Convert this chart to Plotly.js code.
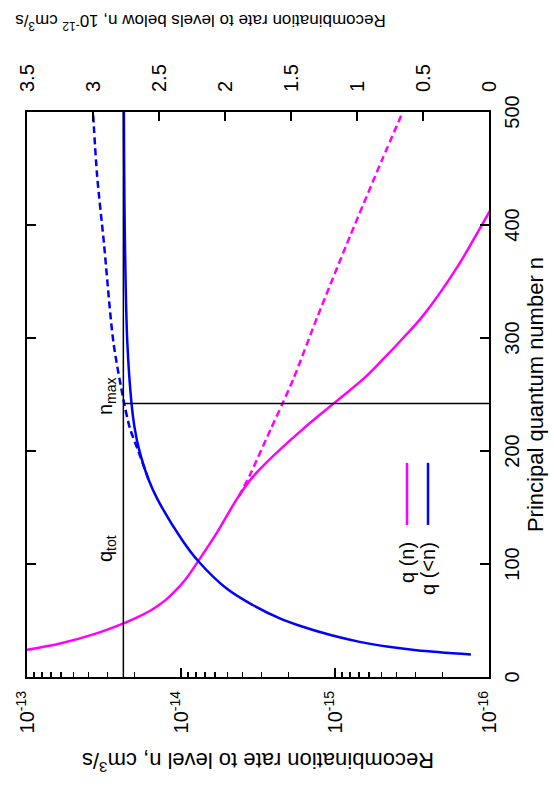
<!DOCTYPE html>
<html><head><meta charset="utf-8">
<script src="https://cdn.plot.ly/plotly-3.0.1.min.js"></script>
<style>
html,body{margin:0;padding:0;width:554px;height:789px;overflow:hidden;background:#fff;}
#wrap{position:absolute;left:0;top:0;width:789px;height:554px;transform-origin:0 0;transform:translate(0px,789px) rotate(-90deg);}
</style></head><body><div id="wrap"></div>
<script>
// q(n): recombination rate to level n, cm^3/s (left log axis)
const nLevel = [20, 24, 29.6, 37.7, 47.5, 53, 58.4, 62.8, 68, 76.2, 86.5, 102.8, 128, 157.6, 176, 190, 219.6, 243, 264, 279, 300, 320, 362, 409, 430];
const qLevel = [1.41e-13, 1.0e-13, 6.10e-14, 3.71e-14, 2.36e-14, 1.908e-14, 1.596e-14, 1.419e-14, 1.262e-14, 1.089e-14, 9.33e-15, 7.71e-15, 5.83e-15, 4.33e-15, 3.47e-15, 2.78e-15, 1.61e-15, 1.0e-15, 6.52e-16, 5.05e-16, 3.61e-16, 2.67e-16, 1.62e-16, 1.02e-16, 8.3e-17];
// q(n) dashed continuation
const nLevelDash = [160, 178, 220, 242, 264, 320, 391, 459, 500];
const qLevelDash = [4.2e-15, 3.59e-15, 2.60e-15, 2.19e-15, 1.86e-15, 1.29e-15, 7.94e-16, 4.90e-16, 3.63e-16];
// q(<n): recombination rate to levels below n, 1e-12 cm^3/s (right linear axis)
const nBelow = [19.9, 23.7, 26.7, 31.1, 37.1, 45.1, 51.9, 63.7, 78.5, 102.2, 121.5, 157, 175, 201, 220, 242, 296, 385, 500];
const qBelow = [0.137, 0.55, 0.76, 0.98, 1.2, 1.428, 1.585, 1.79, 1.99, 2.2, 2.326, 2.51, 2.58, 2.65, 2.684, 2.708, 2.74, 2.758, 2.766];
// q(<n) dashed continuation
const nBelowDash = [175, 201, 220, 243, 296, 385, 444, 500];
const qBelowDash = [2.58, 2.66, 2.72, 2.765, 2.845, 2.918, 2.969, 3.0];
// reference levels
const qTot = 2.77;
const nMax = 242;
// ticks
const nTicks = [0, 100, 200, 300, 400, 500];
const logTickVals = [1e-16, 1e-15, 1e-14, 1e-13];
const logTickText = ['10<sup>-16</sup>', '10<sup>-15</sup>', '10<sup>-14</sup>', '10<sup>-13</sup>'];
const rightTickVals = [0, 0.5, 1, 1.5, 2, 2.5, 3, 3.5];
const rightTickText = ['0', '0.5', '1', '1.5', '2', '2.5', '3', '3.5'];

const MAG = '#ff00ff', BLU = '#0000ff';
const FONT = 'Liberation Sans, Arial, Helvetica, sans-serif';

const minorVals = [];
for (let e = -16; e < -13; e++) for (let m = 2; m <= 9; m++) minorVals.push(m * Math.pow(10, e));

const traces = [
  {x: nLevel, y: qLevel, type: 'scatter', mode: 'lines', name: 'q (n)', yaxis: 'y',
   line: {color: MAG, width: 2.5, shape: 'spline', smoothing: 1}, showlegend: false},
  {x: nLevelDash, y: qLevelDash, type: 'scatter', mode: 'lines', name: 'q (n) extrapolated', yaxis: 'y',
   line: {color: MAG, width: 2.5, dash: '7px,4px', shape: 'spline', smoothing: 0.6}, showlegend: false},
  {x: nBelow, y: qBelow, type: 'scatter', mode: 'lines', name: 'q (<n)', yaxis: 'y2',
   line: {color: BLU, width: 2.5, shape: 'spline', smoothing: 1}, showlegend: false},
  {x: nBelowDash, y: qBelowDash, type: 'scatter', mode: 'lines', name: 'q (<n) extrapolated', yaxis: 'y2',
   line: {color: BLU, width: 2.5, dash: '7px,4px', shape: 'spline', smoothing: 0.8}, showlegend: false}
];

const axisCommon = {showgrid: false, zeroline: false, showline: true, linecolor: '#000', linewidth: 2,
  ticks: 'inside', ticklen: 9, tickwidth: 1.5, tickcolor: '#000',
  tickfont: {family: FONT, size: 20, color: '#000'}};

const layout = {
  width: 789, height: 554,
  margin: {l: 112, r: 112, t: 27, b: 65, pad: 0},
  paper_bgcolor: '#fff', plot_bgcolor: '#fff',
  font: {family: FONT, size: 20, color: '#000'},
  showlegend: false,
  xaxis: Object.assign({}, axisCommon, {
    range: [0, 500], tickmode: 'array', tickvals: nTicks, mirror: 'ticks', ticklabelstandoff: 4,
    title: {text: 'Principal quantum number n', font: {family: FONT, size: 22}, standoff: 6}
  }),
  yaxis: Object.assign({}, axisCommon, {
    type: 'log', range: [-16, -13], tickmode: 'array', tickvals: logTickVals, ticktext: logTickText,
    ticklabelstandoff: 8,
    minor: {ticks: 'inside', ticklen: 5, tickwidth: 1.5, tickcolor: '#000', tickvals: minorVals, showgrid: false},
    title: {text: 'Recombination rate to level n, cm<sup>3</sup>/s', font: {family: FONT, size: 22}, standoff: 13}
  }),
  yaxis2: Object.assign({}, axisCommon, {
    overlaying: 'y', side: 'right', range: [0, 3.5], tickmode: 'array',
    tickvals: rightTickVals, ticktext: rightTickText, ticklabelstandoff: 14
  }),
  shapes: [
    {type: 'line', xref: 'x', yref: 'y2', x0: 0, x1: 500, y0: qTot, y1: qTot, line: {color: '#000', width: 1.5}},
    {type: 'line', xref: 'x', yref: 'y2', x0: nMax, x1: nMax, y0: 0, y1: qTot, line: {color: '#000', width: 1.5}},
    {type: 'line', xref: 'paper', yref: 'paper', x0: 0.269, x1: 0.379, y0: 0.1775, y1: 0.1775, line: {color: MAG, width: 2.5}},
    {type: 'line', xref: 'paper', yref: 'paper', x0: 0.269, x1: 0.379, y0: 0.132, y1: 0.132, line: {color: BLU, width: 2.5}}
  ],
  annotations: [
    {xref: 'x', yref: 'y2', x: 100, y: qTot, text: 'q<sub>tot</sub>', showarrow: false, xanchor: 'left', yanchor: 'bottom', yshift: 2,
     font: {family: FONT, size: 20}},
    {xref: 'x', yref: 'y2', x: 230, y: qTot, text: 'n<sub>max</sub>', showarrow: false, xanchor: 'left', yanchor: 'bottom', yshift: 2,
     font: {family: FONT, size: 20}},
    {xref: 'paper', yref: 'paper', x: 0.2425, y: 0.1775, text: 'q (n)', showarrow: false, xanchor: 'right', yanchor: 'middle',
     font: {family: FONT, size: 20}},
    {xref: 'paper', yref: 'paper', x: 0.2425, y: 0.132, text: 'q (&lt;n)', showarrow: false, xanchor: 'right', yanchor: 'middle',
     font: {family: FONT, size: 20}},
    {xref: 'paper', yref: 'paper', x: 1.159, y: 0.6255, text: 'Recombination rate to levels below n, 10<sup>-12</sup> cm<sup>3</sup>/s',
     showarrow: false, textangle: -90, xanchor: 'center', yanchor: 'middle', font: {family: FONT, size: 17}}
  ]
};

Plotly.newPlot('wrap', traces, layout, {staticPlot: true, displayModeBar: false});
</script>
</body></html>
